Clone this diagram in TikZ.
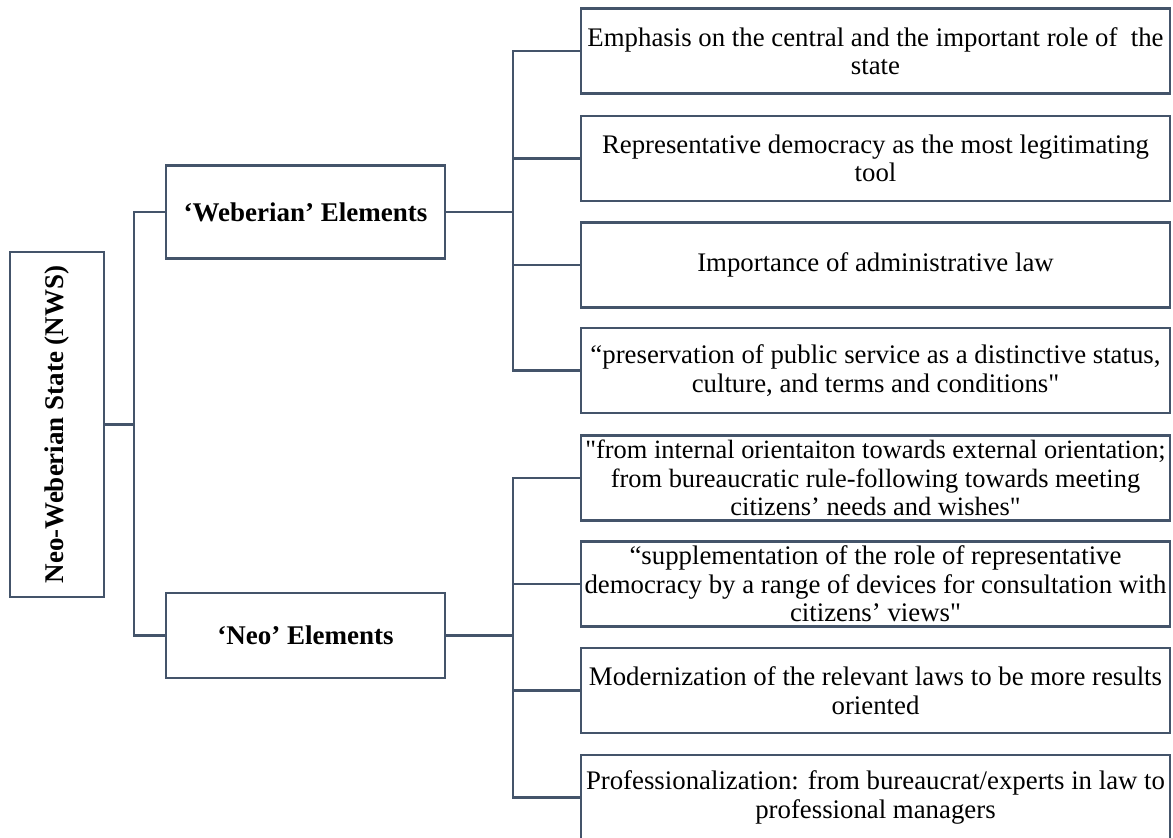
\documentclass[tikz,border=0pt]{standalone}
\usepackage{fontspec}
\setmainfont{Liberation Serif}[Ligatures=TeXOff]
\definecolor{edge}{HTML}{44546A}
\begin{document}
\begin{tikzpicture}[x=1pt,y=1pt,
  box/.style={draw=edge, line width=2.4pt, fill=white, inner sep=1pt,
    align=center, font=\fontsize{26.8}{28.5}\selectfont},
  itembox/.style={box, inner xsep=0pt, minimum width=589, minimum height=85},
  headbox/.style={box, minimum width=279, font=\fontsize{27}{29}\selectfont\bfseries},
  conn/.style={draw=edge, line width=2.4pt, line join=miter}]
\useasboundingbox (0,0) rectangle (1173,-838);

% root of the tree, set vertically
\node[box, rotate=90, minimum width=345, minimum height=94,
      font=\fontsize{27}{29}\selectfont\bfseries] (root) at (57,-424.5) {Neo-Weberian State (NWS)};

% the two groups of elements
\node[headbox, minimum height=93] (web) at (305.5,-212) {‘Weberian’ Elements};
\node[headbox, minimum height=85] (neo) at (305.5,-635.5) {‘Neo’ Elements};

% Weberian elements
\node[itembox] (w1) at (875.5,-51) {Emphasis on the central and the important role of \ the\\state};
\node[itembox] (w2) at (875.5,-158.5) {Representative democracy as the most legitimating\\tool};
\node[itembox] (w3) at (875.5,-265) {Importance of administrative law};
\node[itembox] (w4) at (875.5,-370.5) {“preservation of public service as a distinctive status,\\culture, and terms and conditions"};

% Neo elements
\node[itembox, font=\fontsize{26.4}{28.5}\selectfont] (n1) at (875.5,-478) {"from internal orientaiton towards external orientation;\\from bureaucratic rule-following towards meeting\\citizens’ needs and wishes"};
\node[itembox] (n2) at (875.5,-584) {“supplementation of the role of representative\\democracy by a range of devices for consultation with\\citizens’ views"};
\node[itembox] (n3) at (875.5,-690.5) {Modernization of the relevant laws to be more results\\oriented};
\node[itembox] (n4) at (875.5,-797.5) {Professionalization: from bureaucrat/experts in law to\\professional managers};

% trunk positions of the bracket connectors
\coordinate (t1) at (134,0);
\coordinate (t2) at (513,0);

% root to groups
\draw[conn] (root.south) -- (root.south -| t1);
\draw[conn] (web.west) -- (web.west -| t1) -- (neo.west -| t1) -- (neo.west);

% Weberian group to its elements
\draw[conn] (web.east) -- (web.east -| t2);
\draw[conn] (w1.west) -- (w1.west -| t2) -- (w4.west -| t2) -- (w4.west);
\draw[conn] (w2.west) -- (w2.west -| t2);
\draw[conn] (w3.west) -- (w3.west -| t2);

% Neo group to its elements
\draw[conn] (neo.east) -- (neo.east -| t2);
\draw[conn] (n1.west) -- (n1.west -| t2) -- (n4.west -| t2) -- (n4.west);
\draw[conn] (n2.west) -- (n2.west -| t2);
\draw[conn] (n3.west) -- (n3.west -| t2);
\end{tikzpicture}
\end{document}
